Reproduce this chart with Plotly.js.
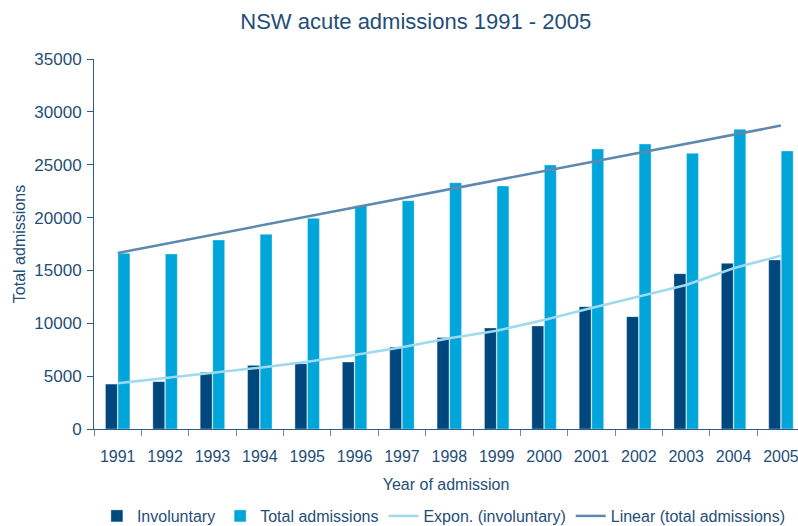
<!DOCTYPE html>
<html>
<head>
<meta charset="utf-8">
<script src="https://cdn.plot.ly/plotly-3.0.1.min.js"></script>
<style>html,body{margin:0;padding:0;background:#fff;}#chart{width:798px;height:526px;}</style>
</head>
<body>
<div id="chart"></div>
<script>
const years = ['1991','1992','1993','1994','1995','1996','1997','1998','1999','2000','2001','2002','2003','2004','2005'];
const involuntary = [4250, 4480, 5360, 6020, 6180, 6340, 7760, 8650, 9560, 9750, 11570, 10630, 14690, 15670, 15990];
const totalAdmissions = [16620, 16560, 17880, 18420, 19930, 21130, 21600, 23300, 22990, 24980, 26490, 26960, 26080, 28350, 26300];
const exponInvoluntary = [4320, 4800, 5270, 5800, 6370, 7000, 7730, 8580, 9300, 10310, 11450, 12520, 13620, 15200, 16400];
const linearYears = ['1991', '2005'];
const linearTotal = [16650, 28700];

const textColor = '#1F4E79';
const font = 'Liberation Sans, Arial, sans-serif';

const traces = [
  {type:'bar', name:'Involuntary', x:years, y:involuntary,
   marker:{color:'#00477D', line:{color:'rgba(255,255,255,0.6)', width:0.6}}},
  {type:'bar', name:'Total admissions', x:years, y:totalAdmissions,
   marker:{color:'#00A6DA', line:{color:'rgba(255,255,255,0.6)', width:0.6}}},
  {type:'scatter', mode:'lines', name:'Expon. (involuntary)', x:years, y:exponInvoluntary,
   line:{color:'#9FD9F0', width:2.5}},
  {type:'scatter', mode:'lines', name:'Linear (total admissions)', x:linearYears, y:linearTotal,
   line:{color:'#5E88AE', width:2.5}}
];

const layout = {
  width:798, height:526,
  margin:{l:94, r:0, t:59, b:97, pad:0},
  paper_bgcolor:'#fff', plot_bgcolor:'#fff',
  font:{family:font, size:16, color:textColor},
  title:{text:'NSW acute admissions 1991 - 2005', font:{family:font, size:22, color:textColor},
         xref:'container', yref:'container', x:0.521, xanchor:'center', y:0.96, yanchor:'middle'},
  barmode:'group', bargap:0.47, bargroupgap:0.05,
  xaxis:{type:'category', range:[-0.5, 14.36], tickson:'boundaries', ticks:'outside', ticklen:6,
         tickcolor:'#6A8CAE', showline:true, linecolor:'#2E5C8A', linewidth:1, showgrid:false,
         tickfont:{size:16, color:textColor}, automargin:false, ticklabelstandoff:13,
         title:{text:'Year of admission', font:{size:16, color:textColor}, standoff:14}},
  yaxis:{range:[0,35000], tickvals:[0,5000,10000,15000,20000,25000,30000,35000],
         ticktext:['0','5000','10000','15000','20000','25000','30000','35000'],
         ticks:'outside', ticklen:6, tickcolor:'#2E5C8A', showline:true, linecolor:'#2E5C8A', linewidth:1,
         showgrid:false, zeroline:false, tickfont:{size:17, color:textColor}, automargin:false,
         ticklabelstandoff:2,
         title:{text:'Total admissions', font:{size:16, color:textColor}, standoff:4}},
  showlegend:true,
  legend:{orientation:'h', x:0.497, xanchor:'center', yref:'container', y:0.019, yanchor:'middle',
          font:{size:16, color:textColor}, traceorder:'normal', itemwidth:30, tracegroupgap:0}
};

Plotly.newPlot('chart', traces, layout, {displayModeBar:false, staticPlot:true});
</script>
</body>
</html>
